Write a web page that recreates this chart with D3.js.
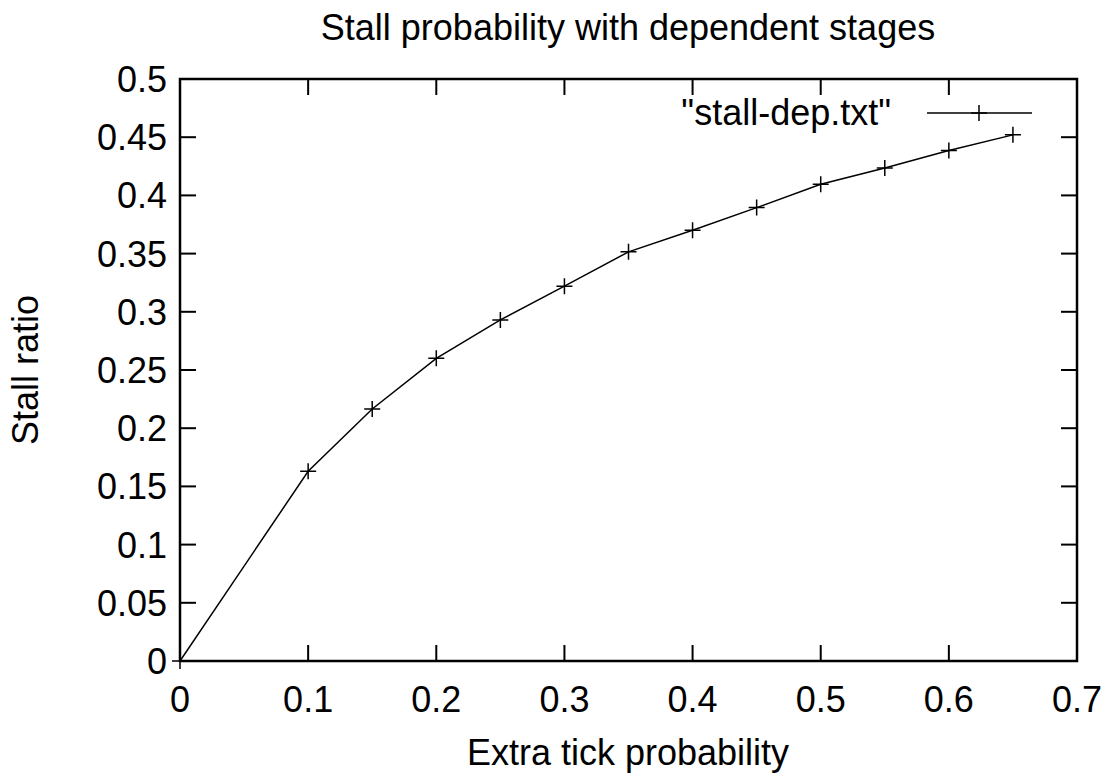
<!DOCTYPE html>
<html>
<head>
<meta charset="utf-8">
<script src="https://cdn.jsdelivr.net/npm/d3@7"></script>
<style>
  body { margin: 0; background: #fff; }
  text { font-family: "Liberation Sans", Arial, sans-serif; fill: #000; }
</style>
</head>
<body>
<script>
// data
var tickProb = [0, 0.1, 0.15, 0.2, 0.25, 0.3, 0.35, 0.4, 0.45, 0.5, 0.55, 0.6, 0.65];
var stallRatio = [0, 0.163, 0.2165, 0.260, 0.293, 0.322, 0.3515, 0.370, 0.3895, 0.4095, 0.4235, 0.4385, 0.452];
var xTicks = [0, 0.1, 0.2, 0.3, 0.4, 0.5, 0.6, 0.7];
var yTicks = [0, 0.05, 0.1, 0.15, 0.2, 0.25, 0.3, 0.35, 0.4, 0.45, 0.5];

var W = 1108, H = 776;
var margin = {top: 79, right: 31, bottom: 115, left: 180},
    width = W - margin.left - margin.right,
    height = H - margin.top - margin.bottom;

var svg = d3.select("body").append("svg")
    .attr("width", W)
    .attr("height", H);

var g = svg.append("g")
    .attr("transform", "translate(" + margin.left + "," + margin.top + ")");

var x = d3.scaleLinear().domain([0, 0.7]).range([0, width]);
var y = d3.scaleLinear().domain([0, 0.5]).range([height, 0]);

var tickLen = 16, fs = 36;

// tick marks, mirrored on all four sides (gnuplot style)
var ticks = g.append("g").attr("stroke", "#000").attr("stroke-width", 2);
xTicks.forEach(function(t) {
  ticks.append("line").attr("x1", x(t)).attr("x2", x(t)).attr("y1", height).attr("y2", height - tickLen);
  ticks.append("line").attr("x1", x(t)).attr("x2", x(t)).attr("y1", 0).attr("y2", tickLen);
});
yTicks.forEach(function(t) {
  ticks.append("line").attr("x1", 0).attr("x2", tickLen).attr("y1", y(t)).attr("y2", y(t));
  ticks.append("line").attr("x1", width).attr("x2", width - tickLen).attr("y1", y(t)).attr("y2", y(t));
});

// tick labels
g.selectAll(".xl").data(xTicks).enter().append("text")
    .attr("x", function(d) { return x(d); })
    .attr("y", height + 51)
    .attr("text-anchor", "middle")
    .style("font-size", fs + "px")
    .text(function(d) { return d3.format("")(d); });

g.selectAll(".yl").data(yTicks).enter().append("text")
    .attr("x", -13)
    .attr("y", function(d) { return y(d) + 13; })
    .attr("text-anchor", "end")
    .style("font-size", fs + "px")
    .text(function(d) { return d3.format("")(d); });

// frame
g.append("rect")
    .attr("width", width).attr("height", height)
    .attr("fill", "none").attr("stroke", "#000").attr("stroke-width", 2.5);

// data line
var pts = tickProb.map(function(d, i) { return [d, stallRatio[i]]; });
var line = d3.line().x(function(d) { return x(d[0]); }).y(function(d) { return y(d[1]); });

g.append("path")
    .datum(pts)
    .attr("d", line)
    .attr("fill", "none")
    .attr("stroke", "#000")
    .attr("stroke-width", 1.5);

function plus(sel, cx, cy) {
  var s = 8;
  sel.append("path")
      .attr("d", "M" + (cx - s) + "," + cy + "H" + (cx + s) + "M" + cx + "," + (cy - s) + "V" + (cy + s))
      .attr("stroke", "#000").attr("stroke-width", 1.5).attr("fill", "none");
}
pts.forEach(function(d) { plus(g, x(d[0]), y(d[1])); });

// legend
var lg = svg.append("g");
lg.append("text")
    .attr("x", 891).attr("y", 125)
    .attr("text-anchor", "end")
    .style("font-size", fs + "px")
    .text('"stall-dep.txt"');
lg.append("line")
    .attr("x1", 927).attr("x2", 1032).attr("y1", 113).attr("y2", 113)
    .attr("stroke", "#000").attr("stroke-width", 1.5);
plus(lg, 979, 113);

// titles
svg.append("text")
    .attr("x", 628).attr("y", 40)
    .attr("text-anchor", "middle")
    .style("font-size", fs + "px")
    .text("Stall probability with dependent stages");

svg.append("text")
    .attr("x", 628).attr("y", 765)
    .attr("text-anchor", "middle")
    .style("font-size", fs + "px")
    .text("Extra tick probability");

svg.append("text")
    .attr("transform", "translate(38," + (margin.top + height / 2) + ") rotate(-90)")
    .attr("text-anchor", "middle")
    .style("font-size", fs + "px")
    .text("Stall ratio");
</script>
</body>
</html>
